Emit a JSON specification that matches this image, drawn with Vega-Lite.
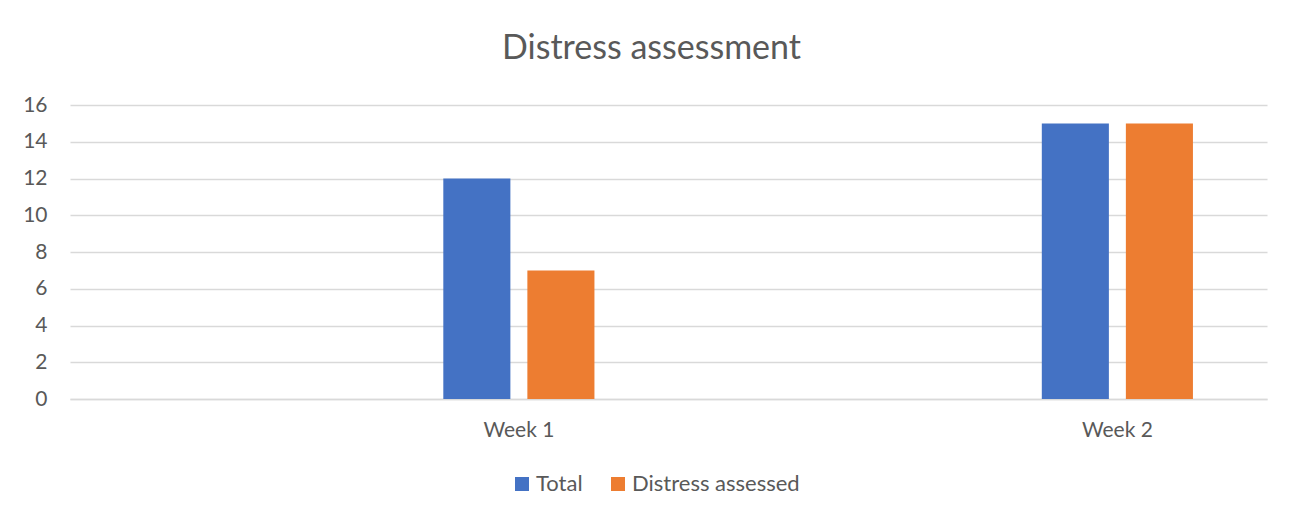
{
  "$schema": "https://vega.github.io/schema/vega-lite/v6.json",
  "autosize": "none",
  "width": 1197,
  "height": 294,
  "padding": {"left": 70, "top": 105, "right": 27, "bottom": 121},
  "background": "white",
  "title": {
    "text": "Distress assessment",
    "anchor": "middle",
    "frame": "group",
    "dx": -17,
    "offset": 28,
    "font": "Lato",
    "fontSize": 34,
    "fontWeight": "normal",
    "color": "#595959"
  },
  "data": {
    "values": [
      {"week": "Week 1", "series": "Total", "value": 12},
      {"week": "Week 1", "series": "Distress assessed", "value": 7},
      {"week": "Week 2", "series": "Total", "value": 15},
      {"week": "Week 2", "series": "Distress assessed", "value": 15}
    ]
  },
  "mark": {"type": "bar"},
  "encoding": {
    "x": {
      "field": "week",
      "type": "nominal",
      "scale": {"domain": ["_a", "Week 1", "_b", "Week 2"], "paddingInner": 0, "paddingOuter": 0},
      "axis": {
        "title": null,
        "labelAngle": 0,
        "labelExpr": "substring(datum.value, 0, 1) == '_' ? '' : datum.value",
        "ticks": false,
        "domainColor": "#d9d9d9",
        "domainWidth": 1.5,
        "labelFont": "Lato",
        "labelFontSize": 21,
        "labelColor": "#595959",
        "labelPadding": 20
      }
    },
    "xOffset": {
      "field": "series",
      "type": "nominal",
      "sort": ["Total", "Distress assessed"],
      "scale": {"paddingInner": 0.202, "paddingOuter": 0.881}
    },
    "y": {
      "field": "value",
      "type": "quantitative",
      "scale": {"domain": [0, 16]},
      "axis": {
        "title": null,
        "values": [0, 2, 4, 6, 8, 10, 12, 14, 16],
        "ticks": false,
        "domain": false,
        "gridColor": "#d9d9d9",
        "gridWidth": 1.5,
        "labelFont": "Lato",
        "labelFontSize": 21,
        "labelColor": "#595959",
        "labelPadding": 23
      }
    },
    "color": {
      "field": "series",
      "type": "nominal",
      "sort": ["Total", "Distress assessed"],
      "scale": {"domain": ["Total", "Distress assessed"], "range": ["#4472C4", "#ED7D31"]},
      "legend": {
        "title": null,
        "orient": "none",
        "direction": "horizontal",
        "legendX": 441,
        "legendY": 368,
        "symbolType": "square",
        "symbolSize": 196,
        "symbolStrokeWidth": 0,
        "labelFont": "Lato",
        "labelFontSize": 22,
        "labelColor": "#595959",
        "labelOffset": 3,
        "labelLimit": 400,
        "columnPadding": 24
      }
    }
  },
  "config": {"view": {"stroke": null}}
}
